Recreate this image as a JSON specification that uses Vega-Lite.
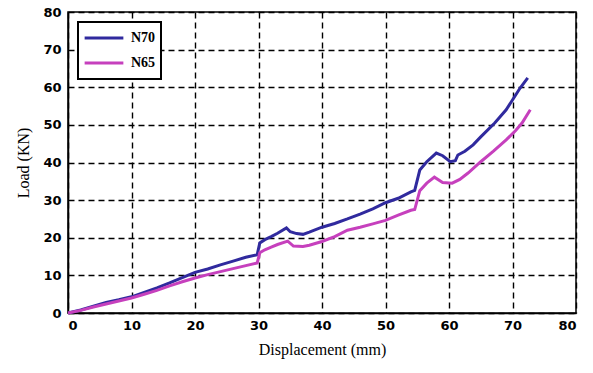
{
  "$schema": "https://vega.github.io/schema/vega-lite/v6.json",
  "width": 508,
  "height": 301,
  "autosize": {"type": "none"},
  "padding": {"left": 68, "top": 12, "right": 17, "bottom": 60},
  "background": "white",
  "config": {
    "view": {"stroke": "black", "strokeWidth": 1.5},
    "axis": {
      "domainColor": "black",
      "domainWidth": 1.5,
      "gridColor": "black",
      "gridDash": [6, 4],
      "gridWidth": 1.4,
      "gridOpacity": 1,
      "ticks": false,
      "labelFont": "DejaVu Sans",
      "labelFontWeight": "bold",
      "labelFontSize": 13,
      "labelColor": "black",
      "titleFont": "Liberation Serif",
      "titleFontWeight": "normal",
      "titleFontSize": 16,
      "titleColor": "black"
    },
    "legend": {"strokeWidth": 2}
  },
  "datasets": {
    "curves": [
      {"series": "N70", "x": 0, "y": 0},
      {"series": "N70", "x": 2, "y": 0.8},
      {"series": "N70", "x": 4, "y": 1.8},
      {"series": "N70", "x": 6, "y": 2.8},
      {"series": "N70", "x": 8, "y": 3.5},
      {"series": "N70", "x": 10, "y": 4.3},
      {"series": "N70", "x": 12, "y": 5.5},
      {"series": "N70", "x": 14, "y": 6.7},
      {"series": "N70", "x": 16, "y": 8},
      {"series": "N70", "x": 18, "y": 9.4},
      {"series": "N70", "x": 20, "y": 10.8},
      {"series": "N70", "x": 22, "y": 11.7},
      {"series": "N70", "x": 24, "y": 12.8},
      {"series": "N70", "x": 26, "y": 13.8},
      {"series": "N70", "x": 28, "y": 14.8},
      {"series": "N70", "x": 29.8, "y": 15.5},
      {"series": "N70", "x": 30.2, "y": 18.6},
      {"series": "N70", "x": 31, "y": 19.5},
      {"series": "N70", "x": 32, "y": 20.3},
      {"series": "N70", "x": 33, "y": 21.2},
      {"series": "N70", "x": 34.4, "y": 22.6},
      {"series": "N70", "x": 35, "y": 21.6},
      {"series": "N70", "x": 36, "y": 21.1},
      {"series": "N70", "x": 37, "y": 20.9},
      {"series": "N70", "x": 38, "y": 21.5},
      {"series": "N70", "x": 40, "y": 22.8},
      {"series": "N70", "x": 42, "y": 23.8},
      {"series": "N70", "x": 44, "y": 25},
      {"series": "N70", "x": 46, "y": 26.3},
      {"series": "N70", "x": 48, "y": 27.7},
      {"series": "N70", "x": 50, "y": 29.3},
      {"series": "N70", "x": 52, "y": 30.5},
      {"series": "N70", "x": 54, "y": 32.2},
      {"series": "N70", "x": 54.6, "y": 32.6},
      {"series": "N70", "x": 55.4, "y": 38},
      {"series": "N70", "x": 56.5, "y": 40.2},
      {"series": "N70", "x": 58, "y": 42.5},
      {"series": "N70", "x": 59, "y": 41.8},
      {"series": "N70", "x": 60.2, "y": 40.2},
      {"series": "N70", "x": 61, "y": 40.5},
      {"series": "N70", "x": 61.4, "y": 42},
      {"series": "N70", "x": 62.5, "y": 43},
      {"series": "N70", "x": 63.8, "y": 44.7},
      {"series": "N70", "x": 65, "y": 46.8},
      {"series": "N70", "x": 67.2, "y": 50.5},
      {"series": "N70", "x": 69, "y": 54},
      {"series": "N70", "x": 71.2, "y": 59.8},
      {"series": "N70", "x": 72.4, "y": 62.5},
      {"series": "N65", "x": 0, "y": 0},
      {"series": "N65", "x": 2, "y": 0.7},
      {"series": "N65", "x": 4, "y": 1.6},
      {"series": "N65", "x": 6, "y": 2.4},
      {"series": "N65", "x": 8, "y": 3.2},
      {"series": "N65", "x": 10, "y": 4},
      {"series": "N65", "x": 12, "y": 5},
      {"series": "N65", "x": 14, "y": 6},
      {"series": "N65", "x": 16, "y": 7.2},
      {"series": "N65", "x": 18, "y": 8.3},
      {"series": "N65", "x": 20, "y": 9.3},
      {"series": "N65", "x": 22, "y": 10.2},
      {"series": "N65", "x": 24, "y": 11},
      {"series": "N65", "x": 26, "y": 11.8},
      {"series": "N65", "x": 28, "y": 12.6},
      {"series": "N65", "x": 29.8, "y": 13.3},
      {"series": "N65", "x": 30.2, "y": 16},
      {"series": "N65", "x": 31, "y": 16.8},
      {"series": "N65", "x": 32, "y": 17.5},
      {"series": "N65", "x": 33, "y": 18.2},
      {"series": "N65", "x": 34.6, "y": 19.1},
      {"series": "N65", "x": 35.5, "y": 17.8},
      {"series": "N65", "x": 37, "y": 17.7},
      {"series": "N65", "x": 38, "y": 18},
      {"series": "N65", "x": 40, "y": 19},
      {"series": "N65", "x": 42, "y": 20.3},
      {"series": "N65", "x": 44, "y": 22},
      {"series": "N65", "x": 46, "y": 22.8},
      {"series": "N65", "x": 48, "y": 23.7},
      {"series": "N65", "x": 50, "y": 24.6},
      {"series": "N65", "x": 52, "y": 26},
      {"series": "N65", "x": 54, "y": 27.3},
      {"series": "N65", "x": 54.6, "y": 27.5},
      {"series": "N65", "x": 55.4, "y": 32.5},
      {"series": "N65", "x": 56.5, "y": 34.5},
      {"series": "N65", "x": 57.7, "y": 36.1},
      {"series": "N65", "x": 59, "y": 34.7},
      {"series": "N65", "x": 60.5, "y": 34.5},
      {"series": "N65", "x": 61.7, "y": 35.5},
      {"series": "N65", "x": 63, "y": 37.2},
      {"series": "N65", "x": 65, "y": 40.2},
      {"series": "N65", "x": 67, "y": 43},
      {"series": "N65", "x": 69, "y": 46},
      {"series": "N65", "x": 70.5, "y": 48.5},
      {"series": "N65", "x": 71.5, "y": 50.5},
      {"series": "N65", "x": 72.8, "y": 54}
    ]
  },
  "data": {"name": "curves"},
  "mark": {"type": "line", "strokeWidth": 3, "interpolate": "linear"},
  "encoding": {
    "x": {
      "field": "x",
      "type": "quantitative",
      "scale": {"domain": [0, 80], "nice": false},
      "axis": {"title": "Displacement (mm)", "values": [0, 10, 20, 30, 40, 50, 60, 70, 80], "labelPadding": 6, "titlePadding": 9}
    },
    "y": {
      "field": "y",
      "type": "quantitative",
      "scale": {"domain": [0, 80], "nice": false},
      "axis": {"title": "Load (KN)", "values": [0, 10, 20, 30, 40, 50, 60, 70, 80], "labelPadding": 7, "titlePadding": 11}
    },
    "color": {
      "field": "series",
      "type": "nominal",
      "scale": {"domain": ["N70", "N65"], "range": ["#302a9e", "#c640bd"]},
      "legend": {
        "title": null,
        "orient": "none",
        "legendX": 10,
        "legendY": 10,
        "symbolType": "stroke",
        "symbolSize": 1500,
        "symbolStrokeWidth": 3,
        "clipHeight": 22,
        "labelFont": "Liberation Serif",
        "labelFontWeight": "bold",
        "labelFontSize": 14,
        "labelColor": "black",
        "labelOffset": 6,
        "strokeColor": "black",
        "fillColor": "white",
        "padding": 5,
        "rowPadding": 3,
        "cornerRadius": 0
      }
    }
  }
}
